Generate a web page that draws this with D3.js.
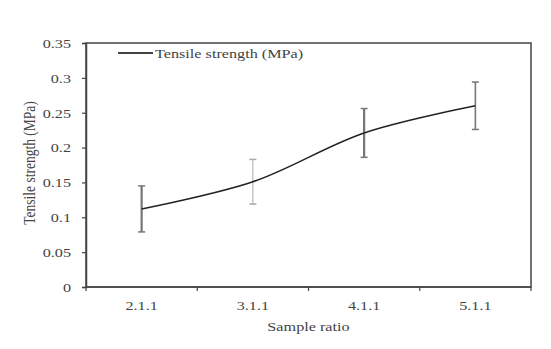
<!DOCTYPE html>
<html>
<head>
<meta charset="utf-8">
<script src="https://cdn.jsdelivr.net/npm/d3@7"></script>
<style>
  body { margin: 0; background: #fff; }
  svg { display: block; font-family: "Liberation Serif", "Times New Roman", serif; }
</style>
</head>
<body>
<svg id="chart" width="551" height="349"></svg>
<script>
// data
var categories = ["2.1.1", "3.1.1", "4.1.1", "5.1.1"];
var strength = [0.112, 0.151, 0.221, 0.26];
var errors = [0.033, 0.032, 0.035, 0.034];
var yTicks = [0, 0.05, 0.1, 0.15, 0.2, 0.25, 0.3, 0.35];
var yTickLabels = ["0", "0.05", "0.1", "0.15", "0.2", "0.25", "0.3", "0.35"];

var margin = { top: 43, right: 20, bottom: 62, left: 86 };
var width = 551 - margin.left - margin.right;
var height = 349 - margin.top - margin.bottom;

// the source picture is stretched sideways, so text is too
var sx = 1.2;
var fs = 13.5;
var textColor = "#444";

var svg = d3.select("#chart");
var g = svg.append("g").attr("transform", "translate(" + margin.left + "," + margin.top + ")");

var x = d3.scaleBand().domain(categories).range([0, width]);
var y = d3.scaleLinear().domain([0, 0.35]).range([height, 0]);

var axisColor = "#444";

// box
g.append("rect")
  .attr("width", width)
  .attr("height", height)
  .attr("fill", "none")
  .attr("stroke", axisColor)
  .attr("stroke-width", 1.5);

// y axis
var yAxis = g.append("g")
  .call(d3.axisLeft(y).tickValues(yTicks).tickSize(4).tickFormat(function (d, i) { return yTickLabels[i]; }));
yAxis.select(".domain").attr("stroke", axisColor).attr("stroke-width", 1.5);
yAxis.selectAll(".tick line").attr("stroke", axisColor).attr("stroke-width", 1.2);
yAxis.selectAll("text")
  .attr("x", -15 / sx)
  .attr("transform", "scale(" + sx + ",1)")
  .attr("font-family", "Liberation Serif")
  .attr("font-size", fs)
  .attr("fill", textColor);

// x axis: ticks at the band edges
var xAxis = g.append("g").attr("transform", "translate(0," + height + ")");
xAxis.append("line")
  .attr("x1", 0).attr("x2", width)
  .attr("stroke", axisColor).attr("stroke-width", 1.5);
var edges = categories.map(function (c) { return x(c); }).concat([width]);
xAxis.selectAll(".edge")
  .data(edges)
  .join("line")
  .attr("class", "edge")
  .attr("x1", function (d) { return d; })
  .attr("x2", function (d) { return d; })
  .attr("y1", 0).attr("y2", 4)
  .attr("stroke", axisColor).attr("stroke-width", 1.2);
xAxis.selectAll(".lbl")
  .data(categories)
  .join("text")
  .attr("class", "lbl")
  .attr("transform", function (d) {
    return "translate(" + (x(d) + x.bandwidth() / 2) + ",23) scale(" + sx + ",1)";
  })
  .attr("text-anchor", "middle")
  .attr("font-size", fs)
  .attr("fill", textColor)
  .text(function (d) { return d; });

// axis titles
svg.append("text")
  .attr("transform", "translate(" + (margin.left + width / 2) + ",331) scale(" + sx + ",1)")
  .attr("text-anchor", "middle")
  .attr("font-size", fs)
  .attr("fill", textColor)
  .text("Sample ratio");

svg.append("text")
  .attr("transform", "translate(35," + (margin.top + height / 2 - 2) + ") scale(" + sx + ",1) rotate(-90)")
  .attr("text-anchor", "middle")
  .attr("font-size", fs)
  .attr("fill", textColor)
  .text("Tensile strength (MPa)");

// error bars
var cx = function (i) { return x(categories[i]) + x.bandwidth() / 2; };
var barColors = ["#777", "#aaa", "#777", "#777"];
var barWidths = [2.2, 1, 2.2, 1.6];
var eb = g.selectAll(".err")
  .data(strength)
  .join("g")
  .attr("class", "err");
eb.append("line")
  .attr("x1", function (d, i) { return cx(i); })
  .attr("x2", function (d, i) { return cx(i); })
  .attr("y1", function (d, i) { return y(d + errors[i]); })
  .attr("y2", function (d, i) { return y(d - errors[i]); })
  .attr("stroke", function (d, i) { return barColors[i]; })
  .attr("stroke-width", function (d, i) { return barWidths[i]; });
[1, -1].forEach(function (s) {
  eb.append("line")
    .attr("x1", function (d, i) { return cx(i) - 3.5; })
    .attr("x2", function (d, i) { return cx(i) + 3.5; })
    .attr("y1", function (d, i) { return y(d + s * errors[i]); })
    .attr("y2", function (d, i) { return y(d + s * errors[i]); })
    .attr("stroke", function (d, i) { return barColors[i]; })
    .attr("stroke-width", 1.5);
});

// smoothed line
var line = d3.line()
  .x(function (d, i) { return cx(i); })
  .y(function (d) { return y(d); })
  .curve(d3.curveCatmullRom.alpha(0.5));
g.append("path")
  .datum(strength)
  .attr("d", line)
  .attr("fill", "none")
  .attr("stroke", "#222")
  .attr("stroke-width", 1.5);

// legend
var lg = g.append("g").attr("transform", "translate(32,10)");
lg.append("line")
  .attr("x1", 0).attr("x2", 35)
  .attr("stroke", "#444").attr("stroke-width", 2);
lg.append("text")
  .attr("transform", "translate(37,4.5) scale(" + sx + ",1)")
  .attr("font-size", fs)
  .attr("fill", textColor)
  .text("Tensile strength (MPa)");
</script>
</body>
</html>
